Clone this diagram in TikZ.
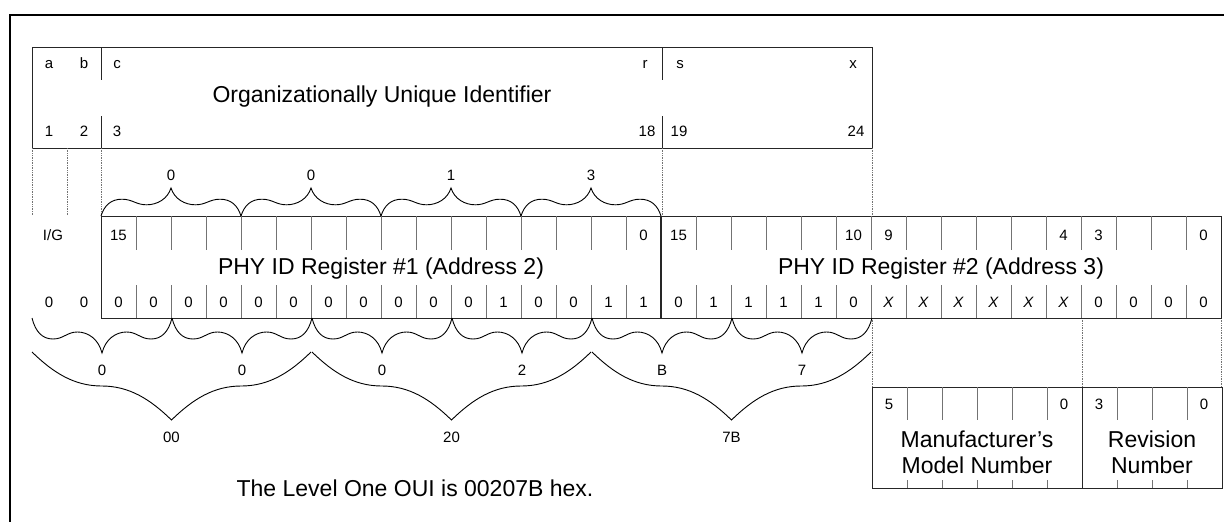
\documentclass[tikz,border=0pt]{standalone}
\usepackage{fontspec}
\setmainfont{Liberation Sans}
\usetikzlibrary{calc}

% wavy brace: left x, right x, base y, depth (negative = upwards)
\newcommand{\wavybrace}[4]{%
  \pgfmathsetmacro{\xa}{#1}\pgfmathsetmacro{\xb}{#2}\pgfmathsetmacro{\bw}{(\xb-\xa)/2}%
  \draw[curly] (\xa,#3)
    .. controls ({\xa+0.05*\bw},{#3+0.4*(#4)}) and ({\xa+0.15*\bw},{#3+0.6*(#4)}) .. ({\xa+0.3*\bw},{#3+0.6*(#4)})
    .. controls ({\xa+0.45*\bw},{#3+0.6*(#4)}) and ({\xa+0.5*\bw},{#3+0.4*(#4)}) .. ({\xa+0.65*\bw},{#3+0.4*(#4)})
    .. controls ({\xa+0.8*\bw},{#3+0.4*(#4)}) and ({\xa+0.95*\bw},{#3+0.6*(#4)}) .. ({\xa+\bw},{#3+#4})
    .. controls ({\xb-0.95*\bw},{#3+0.6*(#4)}) and ({\xb-0.8*\bw},{#3+0.4*(#4)}) .. ({\xb-0.65*\bw},{#3+0.4*(#4)})
    .. controls ({\xb-0.5*\bw},{#3+0.4*(#4)}) and ({\xb-0.45*\bw},{#3+0.6*(#4)}) .. ({\xb-0.3*\bw},{#3+0.6*(#4)})
    .. controls ({\xb-0.15*\bw},{#3+0.6*(#4)}) and ({\xb-0.05*\bw},{#3+0.4*(#4)}) .. (\xb,#3);}
% plain brace, same arguments
\newcommand{\plainbrace}[4]{%
  \pgfmathsetmacro{\xa}{#1}\pgfmathsetmacro{\xb}{#2}\pgfmathsetmacro{\bw}{(\xb-\xa)/2}%
  \draw[curly] (\xa,#3)
    .. controls ({\xa+0.15*\bw},{#3+0.3*(#4)}) and ({\xa+0.3*\bw},{#3+0.5*(#4)}) .. ({\xa+0.5*\bw},{#3+0.5*(#4)})
    .. controls ({\xa+0.7*\bw},{#3+0.5*(#4)}) and ({\xa+0.85*\bw},{#3+0.7*(#4)}) .. ({\xa+\bw},{#3+#4})
    .. controls ({\xb-0.85*\bw},{#3+0.7*(#4)}) and ({\xb-0.7*\bw},{#3+0.5*(#4)}) .. ({\xb-0.5*\bw},{#3+0.5*(#4)})
    .. controls ({\xb-0.3*\bw},{#3+0.5*(#4)}) and ({\xb-0.15*\bw},{#3+0.3*(#4)}) .. (\xb,#3);}

\begin{document}
\begin{tikzpicture}[x=1pt, y=-1pt,
    box/.style={draw=black!85, line width=1pt},
    tick/.style={draw=black!55, line width=0.8pt},
    guide/.style={draw=black!55, densely dotted, line width=0.7pt},
    curly/.style={draw=black, line width=0.9pt},
    bitlbl/.style={font=\fontsize{15}{17}\selectfont, inner sep=0pt, anchor=base},
    title/.style={font=\fontsize{23}{26}\selectfont, inner sep=0pt, align=center}
]
    \useasboundingbox (0,0) rectangle (1224,522);

    % frame
    \draw[line width=2pt] (1224,15) -- (10,15) -- (10,522);

    % OUI field
    \draw[box] (32,47) rectangle (872,148);
    \foreach \x in {101,662}
        \draw[box] (\x,47) -- (\x,80) (\x,116) -- (\x,148);
    \foreach \x/\t [count=\n] in {49/a,84/b,117/c,645/r,680/s,853/x}
        \node[bitlbl] (oa\n) at (\x,68.5) {\t};
    \foreach \x/\t [count=\n] in {49/1,84/2,117/3,647/18,679/19,856/24}
        \node[bitlbl] (ob\n) at (\x,136.5) {\t};
    \node[title, anchor=base] (oui) at (382,102.5) {Organizationally Unique Identifier};

    % dotted guides
    \draw[guide] (32,148) -- (32,215) (67,148) -- (67,215) (101,148) -- (101,216)
                 (662,148) -- (662,216) (872,148) -- (872,216);
    \draw[guide] (872,318) -- (872,387) (1082,318) -- (1082,387) (1221,318) -- (1221,387);

    % PHY ID registers
    \draw[box] (101,216) rectangle (1221,318);
    \foreach \i in {1,...,31}
        \draw[tick] ({101+35*\i},216) -- ({101+35*\i},250) ({101+35*\i},285) -- ({101+35*\i},318);
    \draw[box, line width=1.6pt] (661,216) -- (661,318);
    \node[bitlbl] (ig) at (53,240.5) {I/G};
    \foreach \i/\t in {0/15,15/0,16/15,21/10,22/9,27/4,28/3,31/0}
        \node[bitlbl] (hi\i) at ({118.5+35*\i},240.5) {\t};
    \node[bitlbl] (ig1) at (49,307) {0};
    \node[bitlbl] (ig2) at (84,307) {0};
    \foreach \t [count=\i from 0] in {0,0,0,0,0,0,0,0,0,0,0,1,0,0,1,1,0,1,1,1,1,0,
        \textit{X},\textit{X},\textit{X},\textit{X},\textit{X},\textit{X},0,0,0,0}
        \node[bitlbl] (lo\i) at ({118.5+35*\i},307) {\t};
    \node[title, anchor=base] (reg1) at (381,274) {PHY ID Register \#1 (Address 2)};
    \node[title, anchor=base] (reg2) at (941,274) {PHY ID Register \#2 (Address 3)};

    % braces above register #1
    \foreach \v [count=\k from 0] in {0,0,1,3}{
        \wavybrace{101+140*\k}{241+140*\k}{216}{-28}
        \node[bitlbl] (up\k) at ({171+140*\k},180) {\v};
    }
    % braces below: hex digits
    \foreach \v [count=\k from 0] in {0,0,0,2,B,7}{
        \wavybrace{32+140*\k}{172+140*\k}{318}{35}
        \node[bitlbl] (hx\k) at ({102+140*\k},375.5) {\v};
    }
    % braces below: bytes
    \foreach \v [count=\k from 0] in {00,20,7B}{
        \plainbrace{32+280*\k}{311+280*\k}{352}{68}
        \node[bitlbl] (by\k) at ({171.5+280*\k},442) {\v};
    }

    \node[title, anchor=base] (note) at (415,496) {The Level One OUI is 00207B hex.};

    % model number and revision fields
    \draw[box] (872,387) rectangle (1222,488);
    \draw[box] (1082,387) -- (1082,488);
    \foreach \x in {907,942,977,1012,1047,1117,1152,1187}
        \draw[tick] (\x,387) -- (\x,420) (\x,480) -- (\x,488);
    \foreach \x/\t [count=\n] in {889/5,1064/0,1099/3,1204/0}
        \node[bitlbl] (md\n) at (\x,409) {\t};
    \node[title] (model) at (977,452.5) {Manufacturer's\\Model Number};
    \node[title] (rev) at (1152,452.5) {Revision\\Number};
\end{tikzpicture}
\end{document}
